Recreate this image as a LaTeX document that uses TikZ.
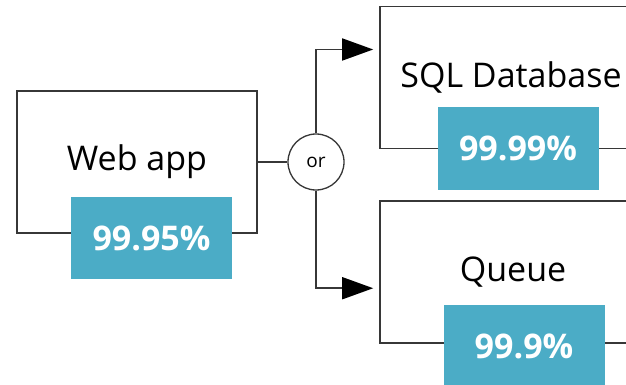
\documentclass[tikz,border=0pt]{standalone}
\usepackage{fontspec}
\setmainfont{Open Sans}
\usetikzlibrary{arrows.meta,calc}
\definecolor{availblue}{RGB}{75,172,198}
\definecolor{linegray}{RGB}{55,55,55}
\begin{document}
\begin{tikzpicture}[x=1pt,y=-1pt,>={Triangle[length=31pt,width=22pt,color=black]},
  dienst/.style={draw=linegray,line width=1.6pt,minimum width=#1,minimum height=142pt,
    inner sep=0pt,font=\fontsize{34}{40}\selectfont},
  prozent/.style={fill=availblue,text=white,minimum width=161pt,minimum height=82pt,
    inner sep=0pt,font=\fontsize{34}{40}\selectfont\bfseries},
  oder/.style={circle,draw=linegray,line width=1.3pt,fill=white,minimum size=56pt,
    inner sep=0pt,font=\fontsize{19}{22}\selectfont},
  pfeil/.style={draw=linegray,line width=1.6pt}]
\useasboundingbox (0,0) rectangle (626,385);
\clip (0,0) rectangle (626,385);
% Dienste (rechte Kanten liegen ausserhalb des Bildes)
\node[dienst=240pt] (web)   at (137,162)   {Web app};
\node[dienst=262pt] (sql)   at (511,77.5)  {SQL Database};
\node[dienst=266pt] (queue) at (513,272)   {Queue};
% Verfuegbarkeiten
\node[prozent] (webp)   at (151.5,238)  {99.95\%};
\node[prozent] (sqlp)   at (518,148.5)  {99.99\%};
\node[prozent] (queuep) at (524,346)    {99.9\%};
% Verzweigung
\node[oder] (or) at (316,162) {or};
% Verbindungen
\draw[pfeil] (web.east) -- (or.west);
\draw[pfeil,->,shorten >=6pt] (or.north) |- ($(sql.north west)!0.305!(sql.south west)$);
\draw[pfeil,->,shorten >=6pt] (or.south) |- ($(queue.north west)!0.613!(queue.south west)$);
\end{tikzpicture}
\end{document}
